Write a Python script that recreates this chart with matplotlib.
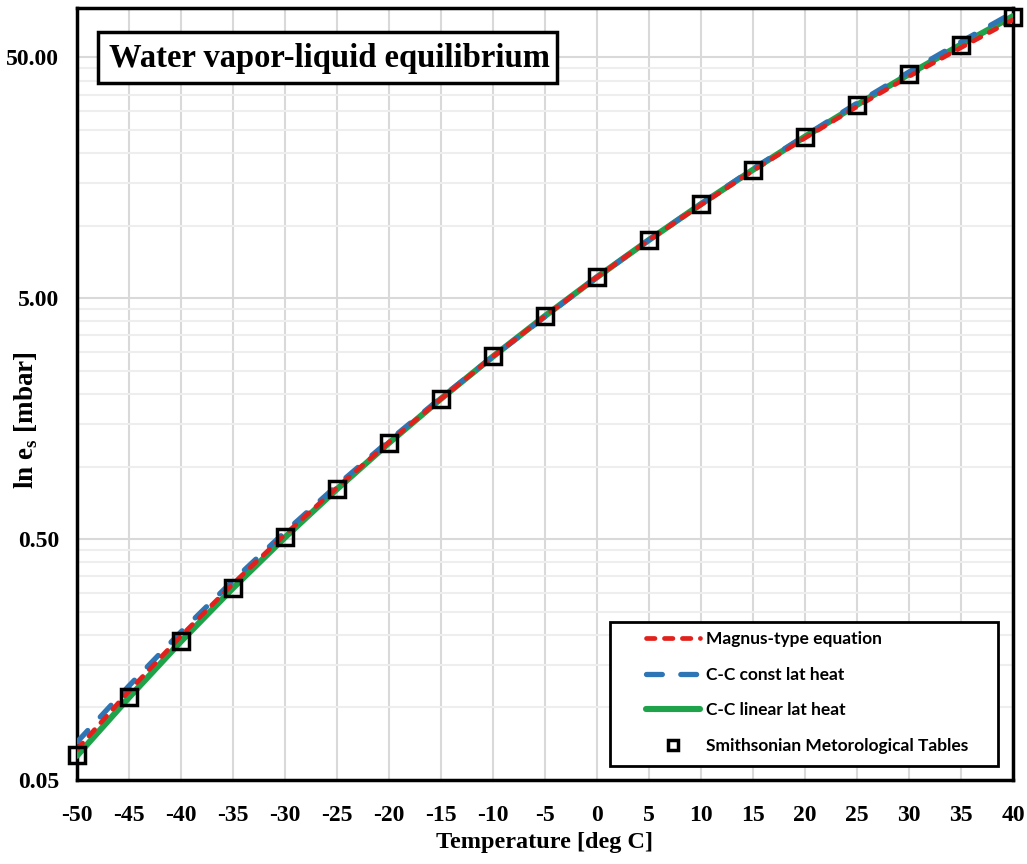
import matplotlib
matplotlib.use("Agg")
import matplotlib.pyplot as plt
from matplotlib.ticker import FixedLocator, NullFormatter
from matplotlib.lines import Line2D
from matplotlib.patches import Rectangle

temps = [-50, -45, -40, -35, -30, -25, -20, -15, -10, -5, 0, 5, 10, 15, 20, 25, 30, 35, 40]
magnus = [0.067, 0.117, 0.198, 0.326, 0.522, 0.818, 1.26, 1.91, 2.86, 4.21, 6.11, 8.71, 12.2, 16.9, 23.1, 31.2, 41.6, 54.8, 71.5]
cc_const = [0.0718, 0.123, 0.206, 0.336, 0.535, 0.835, 1.28, 1.93, 2.86, 4.19, 6.11, 8.72, 12.3, 17.2, 23.6, 32.2, 43.4, 57.9, 76.5]
cc_linear = [0.0630, 0.110, 0.188, 0.313, 0.508, 0.806, 1.253, 1.912, 2.863, 4.215, 6.11, 8.72, 12.28, 17.05, 23.4, 31.7, 42.5, 56.4, 74.0]
smithsonian = [0.0635, 0.111, 0.189, 0.314, 0.509, 0.807, 1.254, 1.912, 2.863, 4.215, 6.11, 8.72, 12.27, 17.04, 23.37, 31.67, 42.43, 56.22, 73.75]

y_ticks = [0.05, 0.5, 5, 50]
y_ticklabels = ["0.05", "0.50", "5.00", "50.00"]
x_ticks = list(range(-50, 41, 5))

title = "Water vapor-liquid equilibrium"
labels = ["Magnus-type equation", "C-C const lat heat", "C-C linear lat heat", "Smithsonian Metorological Tables"]

serif = "Liberation Serif"
W, H = 1027, 864

RED = "#e3211c"
BLUE = "#2e75b6"
GREEN = "#1fa34a"

fig = plt.figure(figsize=(W / 100, H / 100), dpi=100)
ax = fig.add_axes([77 / W, 1 - 780 / H, (1013 - 77) / W, (780 - 8) / H])
ax.set_yscale("log")
ax.set_xlim(-50, 40)
ax.set_ylim(0.05, 80)

minor = []
for dec in [0.05, 0.5, 5, 50]:
    for k in range(2, 10):
        v = dec * k
        if v < 80:
            minor.append(v)
ax.yaxis.set_major_locator(FixedLocator(y_ticks))
ax.yaxis.set_minor_locator(FixedLocator(minor))
ax.yaxis.set_minor_formatter(NullFormatter())
ax.set_yticklabels(y_ticklabels)
ax.set_xticks(x_ticks)
ax.set_xticklabels([str(t) for t in x_ticks])
ax.grid(True, which="major", color="#d9d9d9", lw=1.5, zorder=0)
ax.grid(True, which="minor", axis="y", color="#eeeeee", lw=1.5, zorder=0)
ax.tick_params(which="both", length=0)
ax.tick_params(axis="x", pad=18)
ax.tick_params(axis="y", pad=13)
for lab in ax.get_xticklabels() + ax.get_yticklabels():
    lab.set_fontfamily(serif)
    lab.set_fontweight("bold")
    lab.set_fontsize(17)

for s in ax.spines.values():
    s.set_linewidth(2.5)
    s.set_color("black")

ax.plot(temps, cc_linear, color=GREEN, lw=4.4, solid_capstyle="round", zorder=3)
ax.plot(temps, cc_const, color=BLUE, lw=3.8, dashes=(3, 3.5), dash_capstyle="round", zorder=4)
ax.plot(temps, magnus, color=RED, lw=3.4, dashes=(1.8, 2.0), dash_capstyle="round", zorder=5)
ax.plot(temps, smithsonian, ls="none", marker="s", ms=11, mfc="none", mec="black", mew=2.5,
        zorder=6, clip_on=False)

ax.set_xlabel("Temperature [deg C]", fontfamily=serif, fontweight="bold", fontsize=17.5, labelpad=4)
ax.set_ylabel(r"ln e$_\mathregular{s}$ [mbar]", fontfamily=serif, fontweight="bold", fontsize=19.5)
ax.yaxis.label.set_va("center")
ax.yaxis.set_label_coords((26 - 77) / 936, (780 - 420) / 772)

# title box
fig.patches.append(Rectangle((98 / W, 1 - 83 / H), (557 - 98) / W, (83 - 32) / H,
                             transform=fig.transFigure, fc="white", ec="black", lw=2.5, zorder=10))
fig.text(109 / W, 1 - 58 / H, title, fontfamily=serif, fontweight="bold", fontsize=23.5,
         va="center", ha="left", zorder=11)

# legend
fig.patches.append(Rectangle((610 / W, 1 - 766 / H), (998 - 610) / W, (766 - 622) / H,
                             transform=fig.transFigure, fc="white", ec="black", lw=2, zorder=10))
handles = [
    Line2D([], [], color=RED, lw=3.4, dashes=(1.8, 2.0), dash_capstyle="round"),
    Line2D([], [], color=BLUE, lw=3.8, dashes=(3, 3.5), dash_capstyle="round"),
    Line2D([], [], color=GREEN, lw=4.4, solid_capstyle="round"),
    Line2D([], [], ls="none", marker="s", ms=7, mfc="none", mec="black", mew=2.5),
]
leg = fig.legend(handles, labels, loc="upper left", bbox_to_anchor=(646 / W, 1 - 631 / H),
                 prop=dict(family="Lato", weight="bold", size=12.5), frameon=False,
                 handlelength=3.1, handletextpad=0.35, labelspacing=1.13, borderpad=0,
                 borderaxespad=0)
leg.set_zorder(12)

fig.savefig("out.png", dpi=100)
